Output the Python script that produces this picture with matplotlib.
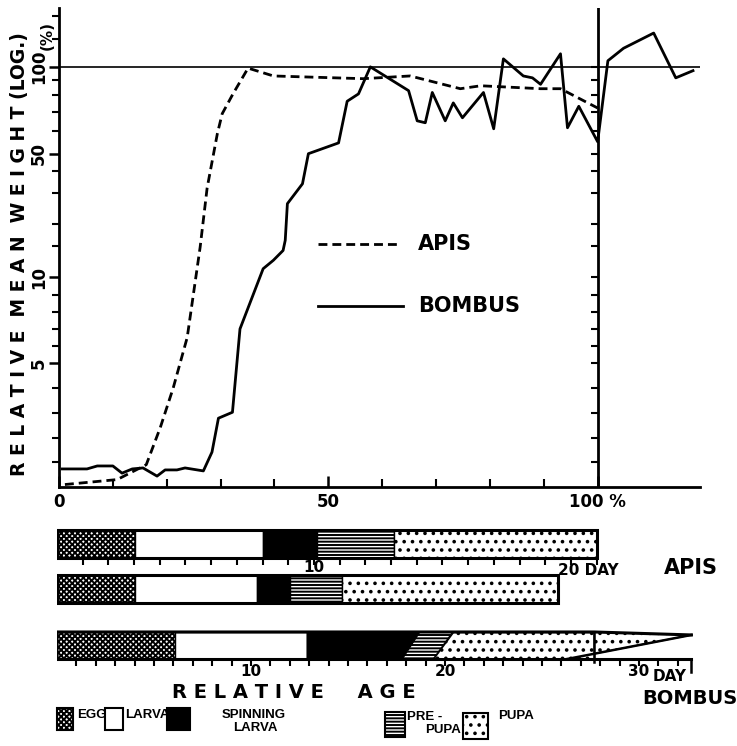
import numpy as np
import matplotlib
matplotlib.use('Agg')
import matplotlib.pyplot as plt
from matplotlib.patches import Polygon, Rectangle

plt.rcParams['font.family'] = ['DejaVu Sans']
plt.rcParams['font.weight'] = 'bold'
plt.rcParams['hatch.linewidth'] = 1.4

W, H = 737, 746

# ── data: relative age (%) vs relative mean weight (%) ──────────────────────
apis_age = [1.1, 10.8, 16.2, 18.8, 21.2, 23.8, 26.2, 27.5, 29.4, 30.3, 32.3,
            35.1, 39.8, 48.0, 56.5, 65.2, 74.5, 78.3, 89.4, 93.1, 100.0]
apis_wt = [0.1, 0.3, 0.9, 2.4, 4.0, 6.5, 14.8, 32, 58.7, 68.8, 80.6,
           99, 93, 92, 91, 93, 84, 86, 84, 84, 72]

bombus_age = [0.6, 5.2, 7.1, 10.0, 11.7, 13.6, 15.6, 18.2, 19.7, 21.9, 23.4,
              26.8, 28.4, 29.6, 32.2, 33.6, 37.9, 39.8, 41.6, 42.0, 42.4,
              45.2, 46.3, 51.9, 53.5, 55.6, 57.8, 64.9, 66.5, 68.0, 69.3,
              71.7, 73.2, 74.9, 78.8, 80.7, 82.5, 86.2, 87.9, 89.4, 93.1,
              94.4, 96.5, 100.0, 101.9, 104.8, 110.4, 114.5, 117.7]
bombus_wt = [0.73, 0.73, 0.85, 0.85, 0.56, 0.73, 0.77, 0.44, 0.69, 0.69, 0.77,
             0.65, 1.41, 2.78, 3.02, 7.0, 11.2, 12.5, 14.2, 16.2, 26.1,
             33.8, 50, 54.5, 76, 80.6, 100, 82.7, 65, 64, 81.5,
             65, 75, 66.6, 81.5, 61, 106.6, 93, 91.6, 87, 111,
             61.5, 73, 55, 105, 116, 131, 91.6, 97]

# stage boundaries (days): egg, larva, spinning larva, prepupa, pupa ends
apis_stages_1 = [0, 3.03, 8.0, 10.1, 13.1, 21.0]
apis_stages_2 = [0, 3.03, 7.78, 9.07, 11.1, 19.5]
# bombus: spinning/prepupa boundaries are slanted (bottom, top)
bombus_egg_end = 6.1
bombus_larva_end = 12.9
bombus_spin_end = (17.8, 18.7)
bombus_prepupa_end = (19.4, 20.4)
bombus_pupa_box_end = 27.7
bombus_tail = (26.3, 32.7)   # diagonal start at bottom, tip

stage_names = ['EGG', 'LARVA', 'SPINNING\nLARVA', 'PRE -\nPUPA', 'PUPA']


def rect(x0, y0, x1, y1):
    return [x0 / W, 1 - y1 / H, (x1 - x0) / W, (y1 - y0) / H]


# ── log-like axis of the original drawing ───────────────────────────────────
def fwd(v):
    v = np.asarray(v, dtype=float)
    lin = np.interp(v, [-5, 0, 5, 10], [-124, 0, 124, 210])
    lv = np.log10(np.clip(v, 1e-9, None))
    lg = np.interp(lv, [1, np.log10(50), 2, 3], [210, 334, 421, 710])
    return np.where(v <= 10, lin, lg)


def inv(p):
    p = np.asarray(p, dtype=float)
    lin = np.interp(p, [-124, 0, 124, 210], [-5, 0, 5, 10])
    lg = 10 ** np.interp(p, [210, 334, 421, 710], [1, np.log10(50), 2, 3])
    return np.where(p <= 210, lin, lg)


fig = plt.figure(figsize=(W / 100, H / 100), dpi=100)

# ── main chart ───────────────────────────────────────────────────────────────
ax = fig.add_axes(rect(59, 8, 700, 487))
ax.set_yscale('function', functions=(fwd, inv))
ax.set_xlim(0, 119)
ax.set_ylim(0, 160)

ax.plot(apis_age, apis_wt, color='black', lw=2.0, dashes=(3.2, 1.8))
ax.plot(bombus_age, bombus_wt, color='black', lw=2.0)
ax.axhline(100, color='black', lw=1.2)
ax.axvline(100, color='black', lw=2.0)

for s in ['top', 'right']:
    ax.spines[s].set_visible(False)
ax.spines['left'].set_linewidth(2.0)
ax.spines['bottom'].set_linewidth(2.0)

major_y = [5, 10, 50, 100]
minor_y = [1, 2, 3, 4, 6, 7, 8, 9, 15, 20, 30, 40, 60, 70, 80, 90, 125, 150]
ax.set_yticks(major_y)
ax.set_yticklabels(['5', '10', '50', '100'], rotation=90, va='center',
                   fontsize=12, fontweight='bold')
ax.set_yticks(minor_y, minor=True)
ax.tick_params(axis='y', which='major', direction='out', length=7, width=1.8, pad=1)
ax.tick_params(axis='y', which='minor', direction='out', length=5, width=1.5)
# the same ticks on the 100 % line
ax.plot(np.full(len(major_y + minor_y[:-2]), 100.0), major_y + minor_y[:-2],
        linestyle='none', marker=0, markersize=5, mew=1.5, color='black')

ax.set_xticks([0, 50, 100])
ax.set_xticklabels(['0', '50', '100 %'], fontsize=12, fontweight='bold')
ax.set_xticks(np.arange(10, 100, 10), minor=True)
ax.tick_params(axis='x', which='major', direction='in', length=8, width=1.8, pad=4)
ax.tick_params(axis='x', which='minor', direction='in', length=6, width=1.5)

fig.text(47 / W, 1 - 36 / H, '(%)', rotation=90, ha='center', va='center',
         fontsize=11, fontweight='bold')
fig.text(20 / W, 1 - 254 / H,
         'R E L A T I V E  M E A N  W E I G H T (LOG.)',
         rotation=90, ha='center', va='center', fontsize=13.5, fontweight='bold')

# legend
ax.plot([0.404, 0.529], [0.507, 0.507], transform=ax.transAxes,
        color='black', lw=2.0, dashes=(3.2, 1.8))
ax.plot([0.404, 0.537], [0.377, 0.377], transform=ax.transAxes,
        color='black', lw=2.0)
ax.text(0.560, 0.507, 'APIS', transform=ax.transAxes, va='center',
        fontsize=15, fontweight='bold')
ax.text(0.560, 0.377, 'BOMBUS', transform=ax.transAxes, va='center',
        fontsize=15, fontweight='bold')

# ── stage bars ───────────────────────────────────────────────────────────────
styles = [dict(facecolor='white', hatch='xxxxxx'),
          dict(facecolor='white'),
          dict(facecolor='black'),
          dict(facecolor='white', hatch='-----'),
          dict(facecolor='white', hatch='..')]

ax_a = fig.add_axes(rect(57, 520, 737, 615))
ax_a.set_xlim(0, (737 - 57) / 25.7)
ax_a.set_ylim(1.58, -0.53)
ax_a.axis('off')
bar_h = 0.62
for row, st in enumerate([apis_stages_1, apis_stages_2]):
    for i in range(5):
        ax_a.barh(row, st[i + 1] - st[i], left=st[i], height=bar_h,
                  edgecolor='black', linewidth=1.0, **styles[i])
    ax_a.add_patch(Rectangle((0, row - bar_h / 2), st[-1], bar_h,
                             fill=False, edgecolor='black', lw=2.2))
days_a = np.arange(1, 22)
ax_a.vlines(days_a, bar_h / 2, bar_h / 2 + 0.16, color='black', lw=1.5)
ax_a.text(10, 0.52, '10', ha='center', va='center', fontsize=11, fontweight='bold')
ax_a.text(19.5, 0.6, '20 DAY', ha='left', va='center', fontsize=11, fontweight='bold')
ax_a.text(23.6, 0.53, 'APIS', ha='left', va='center', fontsize=15,
          fontweight='bold')

ax_b = fig.add_axes(rect(57, 620, 737, 700))
ax_b.set_xlim(0, (737 - 57) / 19.4)
ax_b.set_ylim(-1.52, 1.444)
ax_b.axis('off')
sb, st_ = bombus_spin_end
pb, pt = bombus_prepupa_end
d0, tip = bombus_tail
tip_y = 0.89
cut_y = tip_y * (bombus_pupa_box_end - d0) / (tip - d0)
polys = [
    [(0, 0), (bombus_egg_end, 0), (bombus_egg_end, 1), (0, 1)],
    [(bombus_egg_end, 0), (bombus_larva_end, 0), (bombus_larva_end, 1), (bombus_egg_end, 1)],
    [(bombus_larva_end, 0), (sb, 0), (st_, 1), (bombus_larva_end, 1)],
    [(sb, 0), (pb, 0), (pt, 1), (st_, 1)],
    [(pb, 0), (bombus_pupa_box_end, 0), (bombus_pupa_box_end, 1), (pt, 1)],
]
for i, pts in enumerate(polys):
    ax_b.add_patch(Polygon(pts, closed=True, edgecolor='black', linewidth=1.0,
                           **styles[i]))
ax_b.add_patch(Polygon([(bombus_pupa_box_end, 1), (tip, tip_y),
                        (bombus_pupa_box_end, cut_y)], closed=True,
                       edgecolor='black', linewidth=1.0, **styles[4]))
ax_b.plot([0, 0, bombus_pupa_box_end, tip], [0, 1, 1, tip_y], color='black', lw=2.2)
ax_b.plot([0, tip], [0, 0], color='black', lw=2.2)
ax_b.plot([d0, tip], [0, tip_y], color='black', lw=1.8)
ax_b.plot([bombus_pupa_box_end] * 2, [1, -0.12], color='black', lw=1.8)
ax_b.plot([tip] * 2, [0, -0.48], color='black', lw=1.8)
days_b = np.arange(1, 33)
ax_b.vlines(days_b, 0, -0.26, color='black', lw=1.5)
for d in [10, 20, 30]:
    ax_b.text(d, -0.47, str(d), ha='center', va='center', fontsize=11,
              fontweight='bold')
ax_b.text(30.7, -0.65, 'DAY', ha='left', va='center', fontsize=11, fontweight='bold')

fig.text(172 / W, 1 - 692 / H, 'R E L A T I V E     A G E', ha='left',
         va='center', fontsize=14, fontweight='bold')
fig.text(690 / W, 1 - 698 / H, 'BOMBUS', ha='center', va='center',
         fontsize=14, fontweight='bold')

# ── stage legend ─────────────────────────────────────────────────────────────
ax_l = fig.add_axes(rect(0, 700, W, H))
ax_l.set_xlim(0, W)
ax_l.set_ylim(H, 700)
ax_l.axis('off')
swatches = [(57, 708, 16, 22), (105, 708, 18, 22), (167, 708, 23, 22),
            (385, 712, 20, 25), (463, 713, 25, 26)]
label_pos = [(77, 715), (125, 715), (222, 721), (407, 723), (498, 716)]
lfont = dict(family=['Liberation Sans', 'DejaVu Sans'], fontsize=9.5,
             fontweight='bold', ha='left', va='center')
for i, (x, y, w, h) in enumerate(swatches):
    ax_l.add_patch(Rectangle((x, y), w, h, edgecolor='black', linewidth=1.5,
                             **styles[i]))
for i, name in enumerate(stage_names):
    lx, ly = label_pos[i]
    if '\n' in name:
        top, bot = name.split('\n')
        ax_l.text(lx, ly - 6, top, **lfont)
        ax_l.text(lx + (11 if i == 2 else 18), ly + 7, bot, **lfont)
    else:
        ax_l.text(lx, ly, name, **lfont)

fig.savefig('out.png', dpi=100)
